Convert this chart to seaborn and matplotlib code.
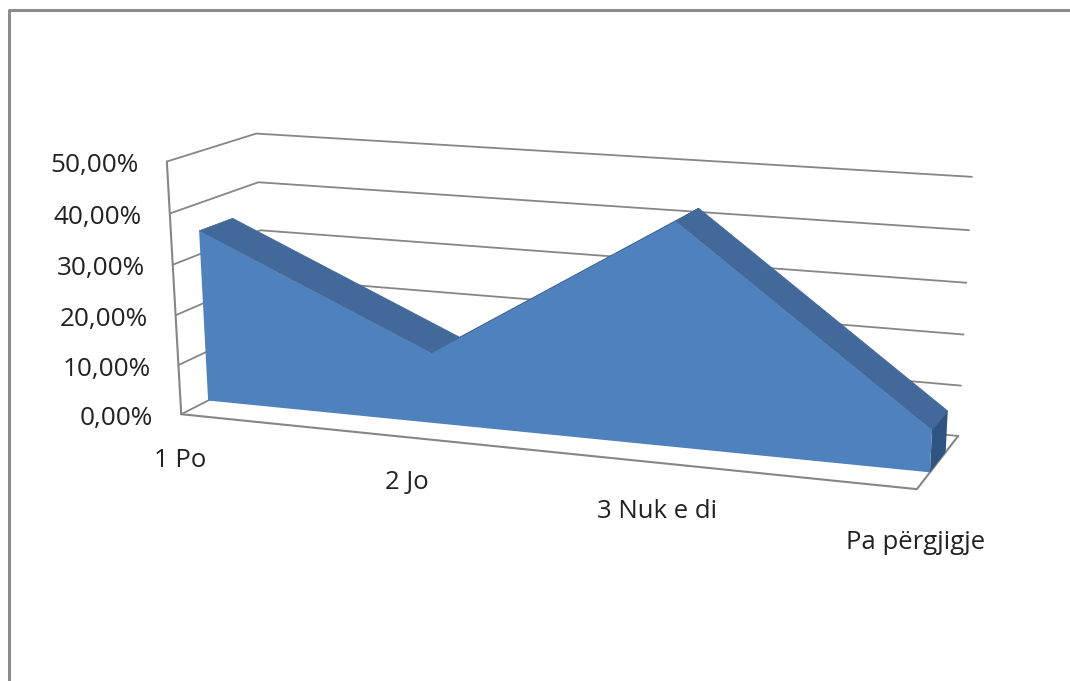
import numpy as np
import pandas as pd
import seaborn as sns
import matplotlib.pyplot as plt

# values (percent)
categories = ['1 Po', '2 Jo', '3 Nuk e di', 'Pa përgjigje']
values = [34.6, 14.0, 43.0, 8.0]
y_ticks = [0, 10, 20, 30, 40, 50]
y_labels = ['0,00%', '10,00%', '20,00%', '30,00%', '40,00%', '50,00%']

# 3d box corners (u, v, w) and where they land in the image, used to fit the camera
box_3d = [(0, 0, 0), (0, 1, 0), (0, 1, 1), (0, 0, 1), (1, 0, 0), (1, 0, 1), (1, 1, 1)]
box_px = [(180, 413), (168, 162), (255, 133), (268, 372), (917, 490), (958, 435), (972, 177)]
depth_front, depth_back = 0.30, 0.68

# nudges for the category labels, below the floor edge
label_dx = [-1, -3, 2, -1]
label_dy = [46, 45, 49, 53]


def fit_camera(pts3, pts2):
    rows, rhs = [], []
    for (a, b, c), (x, y) in zip(pts3, pts2):
        rows.append([a, b, c, 1, 0, 0, 0, 0, -x * a, -x * b, -x * c])
        rows.append([0, 0, 0, 0, a, b, c, 1, -y * a, -y * b, -y * c])
        rhs += [x, y]
    sol = np.linalg.lstsq(np.array(rows, float), np.array(rhs, float), rcond=None)[0]
    return np.append(sol, 1).reshape(3, 4)


cam = fit_camera(box_3d, box_px)


# category position (0-3), value in percent, depth (0-1) -> image position
def project(cat, val, depth):
    cat, val, depth = np.broadcast_arrays(np.asarray(cat, float), np.asarray(val, float), np.asarray(depth, float))
    p = np.stack([cat / 3, val / 50, depth, np.ones_like(cat, dtype=float)])
    q = cam @ p
    return q[0] / q[2], q[1] / q[2]


sns.set_theme(style='white')
plt.rcParams['font.family'] = ['Open Sans', 'DejaVu Sans']

fig, ax = plt.subplots(figsize=(10.7, 6.81), dpi=100)
fig.subplots_adjust(0, 0, 1, 1)
ax.set_xlim(0, 1070)
ax.set_ylim(681, 0)
ax.axis('off')

GRAY = '#868686'


def draw_line(cats, vals, depths, color=GRAY, lw=1.3):
    xs, ys = project(cats, vals, depths)
    df = pd.DataFrame({'x': xs, 'y': ys})
    sns.lineplot(data=df, x='x', y='y', sort=False, estimator=None, color=color, lw=lw, ax=ax)


# outer chart frame
frame = pd.DataFrame({'x': [9, 9, 1075], 'y': [690, 10, 10]})
sns.lineplot(data=frame, x='x', y='y', sort=False, estimator=None, color='#8c8c8c', lw=2.2, ax=ax)

# walls and floor
for t in y_ticks:
    draw_line([0, 0, 3], [t, t, t], [0, 1, 1])
draw_line([0, 0], [0, 50], [0, 0], lw=1.5)
draw_line([0, 3, 3], [0, 0, 0], [0, 0, 1], lw=1.5)

# area: top faces, end face, front face
n = len(values)
for i in range(n - 1):
    cc = [i, i + 1, i + 1, i]
    vv = [values[i], values[i + 1], values[i + 1], values[i]]
    dd = [depth_front, depth_front, depth_back, depth_back]
    xs, ys = project(cc, vv, dd)
    ax.fill(xs, ys, color='#43699B', lw=0.6, zorder=3)

xs, ys = project([3, 3, 3, 3], [0, values[3], values[3], 0], [depth_front, depth_front, depth_back, depth_back])
ax.fill(xs, ys, color='#2F5481', lw=0, zorder=4)

cc = list(range(n)) + [3, 0]
vv = values + [0, 0]
xs, ys = project(cc, vv, [depth_front] * len(cc))
ax.fill(xs, ys, color='#4F81BD', lw=0, zorder=5)

# tick labels
for t, lab in zip(y_ticks, y_labels):
    x, y = project(0, t, 0)
    ax.text(x - 28, y + 4, lab, ha='right', va='center', fontsize=18.8, color='#222222')

for i, lab in enumerate(categories):
    x, y = project(i, 0, 0)
    ax.text(x + label_dx[i], y + label_dy[i], lab, ha='center', va='center', fontsize=18.5, color='#222222')

fig.savefig('out.png', dpi=100)
